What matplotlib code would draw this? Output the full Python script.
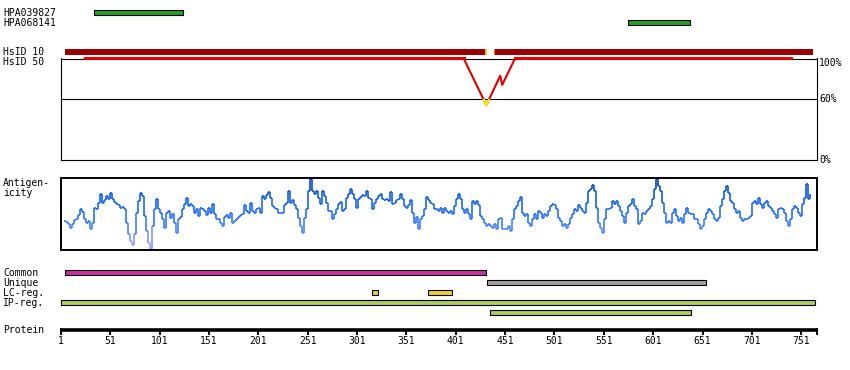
import numpy as np
import matplotlib
matplotlib.use("Agg")
import matplotlib.pyplot as plt
from matplotlib.collections import LineCollection
from matplotlib.colors import LinearSegmentedColormap, Normalize
from matplotlib.patches import Rectangle

# -----------------------------
# Chart data
# -----------------------------

protein_length = 766
tick_residues = [1, 51, 101, 151, 201, 251, 301, 351, 401, 451, 501, 551, 601, 651, 701, 751]

antibody_names = ["HPA039827", "HPA068141"]
antibody_start = [34, 575]
antibody_end = [125, 638]

hsid10_start = [5, 440]
hsid10_end = [432, 763]
hsid10_low = [431, 440]  # single residues at the gap edges (orange)

hsid50_residue = [25, 409, 432, 446, 448, 461, 741]
hsid50_identity = [100, 100, 54, 83, 74, 100, 100]

# antigenicity profile, sampled about every 2 residues from residue 4 to 760
antigenicity = [
    29, 28, 26, 22, 26, 30, 31, 35, 41, 38, 31, 27, 29, 21, 27, 42, 41, 47, 56, 47,
    50, 54, 51, 57, 51, 48, 46, 45, 42, 43, 41, 27, 16, 9, 5, 16, 37, 49, 57, 54,
    34, 19, 7, 1, 24, 41, 51, 41, 37, 31, 22, 37, 39, 32, 36, 27, 17, 31, 33, 41,
    46, 52, 44,
    46, 44, 37, 41, 34, 42, 41, 39, 35, 42, 37, 46, 36, 31, 31, 27, 24, 33, 35, 32,
    37, 27, 29, 31, 33, 35, 36, 45, 39, 37, 47, 39, 37, 41, 42, 37, 54, 51, 55, 58,
    52, 44, 42, 41, 37, 37, 37, 45, 47, 59, 47, 50, 45, 41, 32, 24, 17, 32, 41, 59,
    71, 59, 56, 59,
    52, 46, 59, 54, 47, 39, 39, 31, 36, 41, 46, 48, 39, 41, 52, 56, 61, 56, 51, 42,
    51, 53, 55, 54, 59, 52, 51, 41, 47, 51, 54, 56, 51, 50, 51, 49, 58, 46, 47, 50,
    51, 56, 51, 44, 42, 45, 50, 37, 27, 33, 21, 31, 34, 41, 53, 50, 47, 46, 41, 41,
    39, 42, 37, 42,
    39, 37, 39, 36, 44, 51, 56, 51, 41, 37, 41, 36, 31, 49, 46, 49, 45, 34, 31, 27,
    24, 26, 24, 22, 26, 21, 31, 32, 21, 21, 21, 24, 19, 31, 41, 44, 49, 53, 37, 34,
    36, 27, 24, 31, 36, 31, 39, 37, 32, 36, 34, 39, 44, 46, 45, 41, 32, 29, 24, 26,
    22, 26, 32, 36,
    41, 39, 45, 42, 39, 37, 47, 59, 61, 65, 59, 42, 27, 22, 17, 31, 41, 41, 42, 49,
    46, 49, 44, 39, 34, 27, 37, 44, 46, 51, 44, 41, 26, 29, 37, 36, 39, 41, 44, 51,
    61, 71, 64, 59, 47, 37, 27, 29, 27, 37, 41, 34, 29, 32, 27, 36, 42, 37, 36, 36,
    31, 31, 26, 21,
    24, 31, 37, 41, 39, 36, 31, 29, 32, 44, 51, 59, 64, 57, 49, 47, 41, 37, 39, 32,
    29, 31, 31, 32, 34, 47, 49, 46, 52, 46, 42, 47, 49, 44, 42, 39, 36, 32, 41, 42,
    41, 37, 29, 24, 31, 41, 44, 42, 37, 34, 46, 52, 66, 51, 56,
]

common_start, common_end = [5], [432]
unique_start, unique_end = [433], [655]
lc_start, lc_end = [316, 373], [322, 397]
ip_start, ip_end = [1, 436], [765, 639]
ip_row = [0, 1]

# -----------------------------
# Layout (pixels of an 850x370 image)
# -----------------------------

W, H = 850, 370
X0 = 61                      # pixel of residue 1
PX = 756 / protein_length    # pixels per residue

fig = plt.figure(figsize=(W / 100, H / 100), dpi=100)
font = dict(family="DejaVu Sans Mono", fontsize=7)


def frame(top, bottom):
    return [X0 / W, 1 - bottom / H, 756 / W, (bottom - top) / H]


track = fig.add_axes([0, 0, 1, 1])
track.set_xlim(1 - X0 / PX, 1 + (W - X0) / PX)
track.set_ylim(H, 0)
track.axis("off")


def label(y, text):
    track.text(3 / W, y, text, transform=track.get_yaxis_transform(),
               ha="left", va="center", **font)


def bars(y, starts, ends, color, h=5, edge="black"):
    starts = np.asarray(starts)
    ends = np.asarray(ends)
    track.barh(y, ends - starts, left=starts, height=h, color=color,
               edgecolor=edge, linewidth=0.8)


# antibodies
for i, name in enumerate(antibody_names):
    label(12.5 + 10 * i, name)
    bars(12.5 + 10 * i, [antibody_start[i]], [antibody_end[i]], "#22a022")

# HsID 10
label(52, "HsID 10")
bars(52, hsid10_start, hsid10_end, "#990000", h=6, edge="none")
track.barh(52, 1.2, left=hsid10_low, height=6, color=["#ffcc00", "#ff7700"])

# -----------------------------
# Identity panel (HsID 50)
# -----------------------------

label(62, "HsID 50")
ax_id = fig.add_axes(frame(58.5, 160))
ax_id.set_xlim(1, protein_length + 1)
ax_id.set_ylim(0, 100)
ax_id.set_xticks([])
ax_id.set_yticks([])
for s in ax_id.spines.values():
    s.set_linewidth(0.8)
ax_id.axhline(60, color="black", lw=0.8)

ax_id.plot(hsid50_residue, hsid50_identity, color="#e00000", lw=1.5,
           clip_on=False, zorder=3)
ax_id.plot(hsid50_residue[:2], hsid50_identity[:2], color="#e00000", lw=2.2,
           clip_on=False, zorder=3)
ax_id.plot(hsid50_residue[-2:], hsid50_identity[-2:], color="#e00000", lw=2.2,
           clip_on=False, zorder=3)
low = ax_id.plot(hsid50_residue, hsid50_identity, color="#ffee00", lw=1.5, zorder=4)
low[0].set_clip_path(Rectangle((0, 0), protein_length + 1, 60, transform=ax_id.transData))

yt = ax_id.get_yaxis_transform()
ax_id.text(1.003, 100, "100%", transform=yt, ha="left", va="top", **font)
ax_id.text(1.003, 60, "60%", transform=yt, ha="left", va="center", **font)
ax_id.text(1.003, 0, "0%", transform=yt, ha="left", va="center", **font)

# -----------------------------
# Antigenicity panel
# -----------------------------

label(183, "Antigen-")
label(193, "icity")
ax_ag = fig.add_axes(frame(178, 250))
ax_ag.set_xlim(1, protein_length + 1)
ax_ag.set_ylim(0, 72)
ax_ag.set_xticks([])
ax_ag.set_yticks([])
for s in ax_ag.spines.values():
    s.set_linewidth(1.4)

cmap = LinearSegmentedColormap.from_list("antigen", [
    (0.0, "#b8a4ff"), (0.12, "#9c9cff"), (0.25, "#5a8cff"), (0.45, "#2a74ff"),
    (0.7, "#1464ee"), (0.9, "#0650c8"), (1.0, "#003c96")])

x = np.linspace(4, 760, len(antigenicity))
y = np.asarray(antigenicity, dtype=float)
xs = np.repeat(x, 2)[1:]
ys = np.repeat(y, 2)[:-1]
pts = np.column_stack([xs, ys])
segs = np.stack([pts[:-1], pts[1:]], axis=1)
lc = LineCollection(segs, cmap=cmap, norm=Normalize(0, 72), linewidths=1.2)
lc.set_array((ys[:-1] + ys[1:]) / 2)
ax_ag.add_collection(lc)

# -----------------------------
# Region tracks
# -----------------------------

label(273, "Common")
bars(272.5, common_start, common_end, "#c832a0")
label(283, "Unique")
bars(282.5, unique_start, unique_end, "#a0a0a0")
label(293, "LC-reg.")
bars(292.5, lc_start, lc_end, "#f0d030")
label(303, "IP-reg.")
for s, e, r in zip(ip_start, ip_end, ip_row):
    bars(302.5 + 10 * r, [s], [e], "#b0cc5a")

# protein axis
label(330, "Protein")
track.hlines(329.5, 1, protein_length + 1, color="black", lw=2.6)
track.vlines(tick_residues, 331, 334.5, color="black", lw=1.4)
track.vlines([1, protein_length + 1], 327.5, 334.5, color="black", lw=1.4)
for t in tick_residues:
    track.text(t, 341, str(t), ha="center", va="center", **font)

fig.savefig("out.png", dpi=100)
